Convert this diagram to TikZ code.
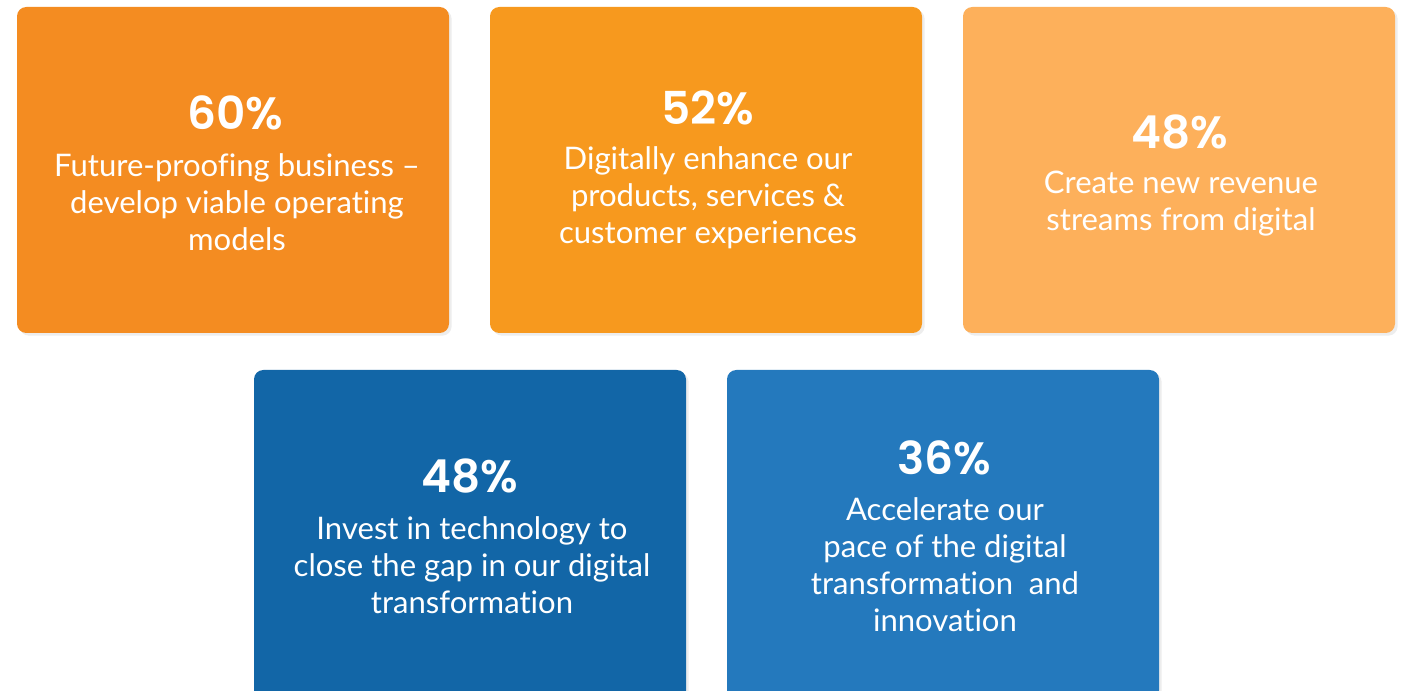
\documentclass[tikz,border=0pt]{standalone}
\usepackage{fontspec}
\setmainfont{Lato}[Ligatures={NoCommon}]
\newfontfamily\numfont{Poppins}[UprightFont=* SemiBold]
\usetikzlibrary{shadows}
\definecolor{oA}{HTML}{F48C21}
\definecolor{oB}{HTML}{F7991E}
\definecolor{oC}{HTML}{FDB05B}
\definecolor{bA}{HTML}{1266A7}
\definecolor{bB}{HTML}{2479BD}
\tikzset{
  card/.style={rounded corners=7pt, draw=none, drop shadow={shadow xshift=2pt, shadow yshift=-2pt, opacity=0.07, fill=black}},
  pct/.style={text=white, font=\numfont\fontsize{34}{40}\selectfont, inner sep=0pt},
  body/.style={text=white, font=\fontsize{23.3}{27.75}\selectfont, align=center, inner sep=0pt},
}
\begin{document}
\begin{tikzpicture}[x=0.75pt,y=-0.75pt]
\useasboundingbox (0,0) rectangle (1406,691);
\fill[white] (0,0) rectangle (1406,691);
\filldraw[card, fill=oA] (17,7) rectangle (449,333);
\filldraw[card, fill=oB] (490,7) rectangle (922,333);
\filldraw[card, fill=oC] (963,7) rectangle (1395,333);
\filldraw[card, fill=bA] (254,370) rectangle (686,700);
\filldraw[card, fill=bB] (727,370) rectangle (1159,700);
\node[pct] (p1) at (235,113) {60\%};
\node[body] (t1) at (237,202) {Future-proofing business –\\develop viable operating\\models};
\node[pct] (p2) at (708,108) {52\%};
\node[body] (t2) at (708,198) {Digitally enhance our\\products, services \&\\customer experiences};
\node[pct] (p3) at (1180,132) {48\%};
\node[body] (t3) at (1181,204) {Create new revenue\\streams from digital};
\node[pct] (p4) at (470,476) {48\%};
\node[body] (t4) at (472,565) {Invest in technology to\\close the gap in our digital\\transformation};
\node[pct] (p5) at (944,458) {36\%};
\node[body] (t5) at (945,565) {Accelerate our\\pace of the digital\\transformation\ \ and\\innovation};
\end{tikzpicture}
\end{document}
